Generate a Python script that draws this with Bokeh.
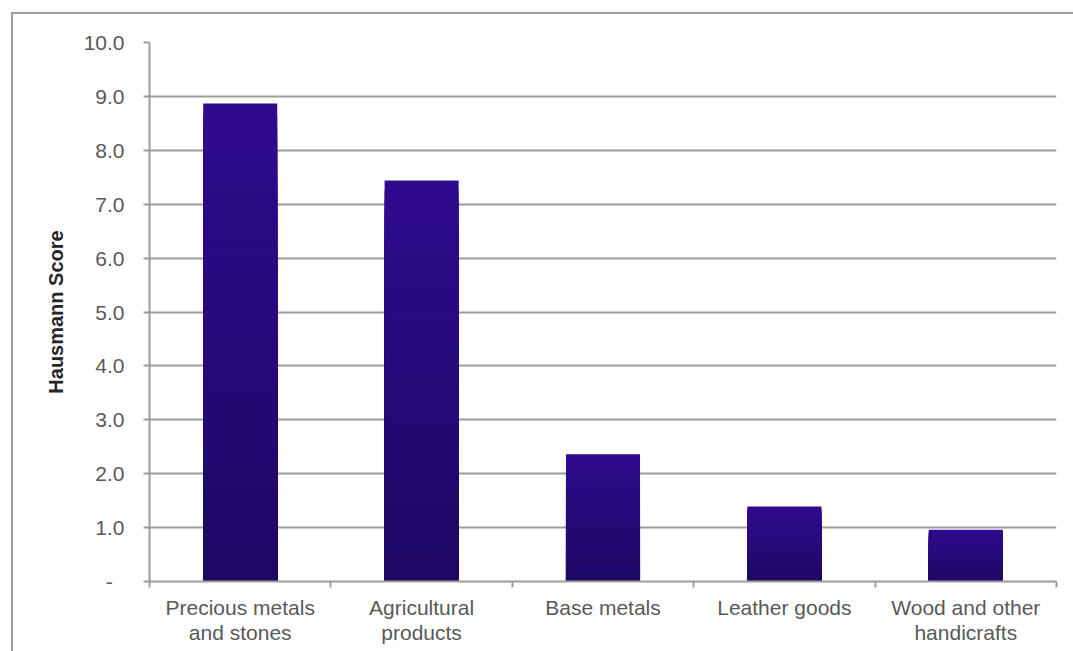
from bokeh.plotting import figure
from bokeh.models import Range1d, FixedTicker, LinearAxis, ColumnDataSource, Grid, InlineStyleSheet
from bokeh.embed import file_html
from bokeh.resources import INLINE

categories = ["Precious metals\nand stones", "Agricultural\nproducts", "Base metals",
              "Leather goods", "Wood and other\nhandicrafts"]
scores = [8.87, 7.44, 2.36, 1.39, 0.96]
y_ticks = [0, 1, 2, 3, 4, 5, 6, 7, 8, 9, 10]
y_tick_labels = ["-\u00a0\u00a0", "1.0", "2.0", "3.0", "4.0", "5.0", "6.0", "7.0", "8.0", "9.0", "10.0"]

GRID = "#9c9c9c"
TXT = "#595959"
FONT = "Liberation Sans"

p = figure(width=1073, height=651, output_backend="svg", toolbar_location=None,
           x_range=Range1d(0, len(categories)), y_range=Range1d(0, 10),
           min_border_left=149, min_border_right=17, min_border_top=42, min_border_bottom=70,
           x_axis_type=None, y_axis_type=None)
p.outline_line_color = None
p.background_fill_color = "white"
p.border_fill_color = "white"

# gradient bars: stacked overlapping rectangles, lightest (full) first
top_rgb = (46, 11, 142)
bot_rgb = (30, 8, 100)
N = 40
xs = [i + 0.5 for i in range(len(categories))]
for k in range(N):
    frac = (N - k) / N
    t = k / (N - 1)
    c = tuple(int(round(top_rgb[j] + (bot_rgb[j] - top_rgb[j]) * t)) for j in range(3))
    col = "#%02x%02x%02x" % c
    src = ColumnDataSource(dict(x=xs, top=[v * frac for v in scores]))
    p.vbar(x="x", top="top", bottom=0, width=0.408, source=src,
           fill_color=col, line_color=None)

# x axis: labels at centres, ticks at boundaries
xaxis = LinearAxis(ticker=FixedTicker(ticks=xs, minor_ticks=list(range(len(categories) + 1))))
xaxis.major_label_overrides = {x: lab for x, lab in zip(xs, categories)}
xaxis.major_tick_line_color = None
xaxis.minor_tick_line_color = GRID
xaxis.minor_tick_line_width = 2
xaxis.minor_tick_out = 6
xaxis.minor_tick_in = 0
xaxis.axis_line_color = GRID
xaxis.axis_line_width = 2
xaxis.major_label_text_font = FONT
xaxis.major_label_text_font_size = "21px"
xaxis.major_label_text_color = TXT
xaxis.major_label_text_line_height = 1.1
xaxis.major_label_standoff = 8
p.add_layout(xaxis, "below")

yaxis = LinearAxis(ticker=FixedTicker(ticks=y_ticks, minor_ticks=[]))
yaxis.major_label_overrides = {t: lab for t, lab in zip(y_ticks, y_tick_labels)}
yaxis.major_tick_line_color = GRID
yaxis.major_tick_line_width = 2
yaxis.major_tick_out = 6
yaxis.major_tick_in = 0
yaxis.axis_line_color = GRID
yaxis.axis_line_width = 2
yaxis.major_label_text_font = FONT
yaxis.major_label_text_font_size = "21px"
yaxis.major_label_text_color = TXT
yaxis.major_label_standoff = 19
yaxis.axis_label = "Hausmann Score"
yaxis.axis_label_text_font = FONT
yaxis.axis_label_text_font_size = "20px"
yaxis.axis_label_text_font_style = "bold"
yaxis.axis_label_text_color = "#262626"
yaxis.axis_label_standoff = 14
p.add_layout(yaxis, "left")

p.add_layout(Grid(dimension=1, ticker=yaxis.ticker, grid_line_color=GRID, grid_line_width=2))

# outer chart border (partially cropped in the reference)
p.stylesheets = [InlineStyleSheet(css=(
    ":host::after { content: ''; position: absolute; left: 11px; top: 12px; right: 0; bottom: 0;"
    " border-top: 2px solid #9c9c9c; border-left: 2px solid #9c9c9c; pointer-events: none; }"
))]

open("out.html", "w").write(file_html(p, INLINE))
